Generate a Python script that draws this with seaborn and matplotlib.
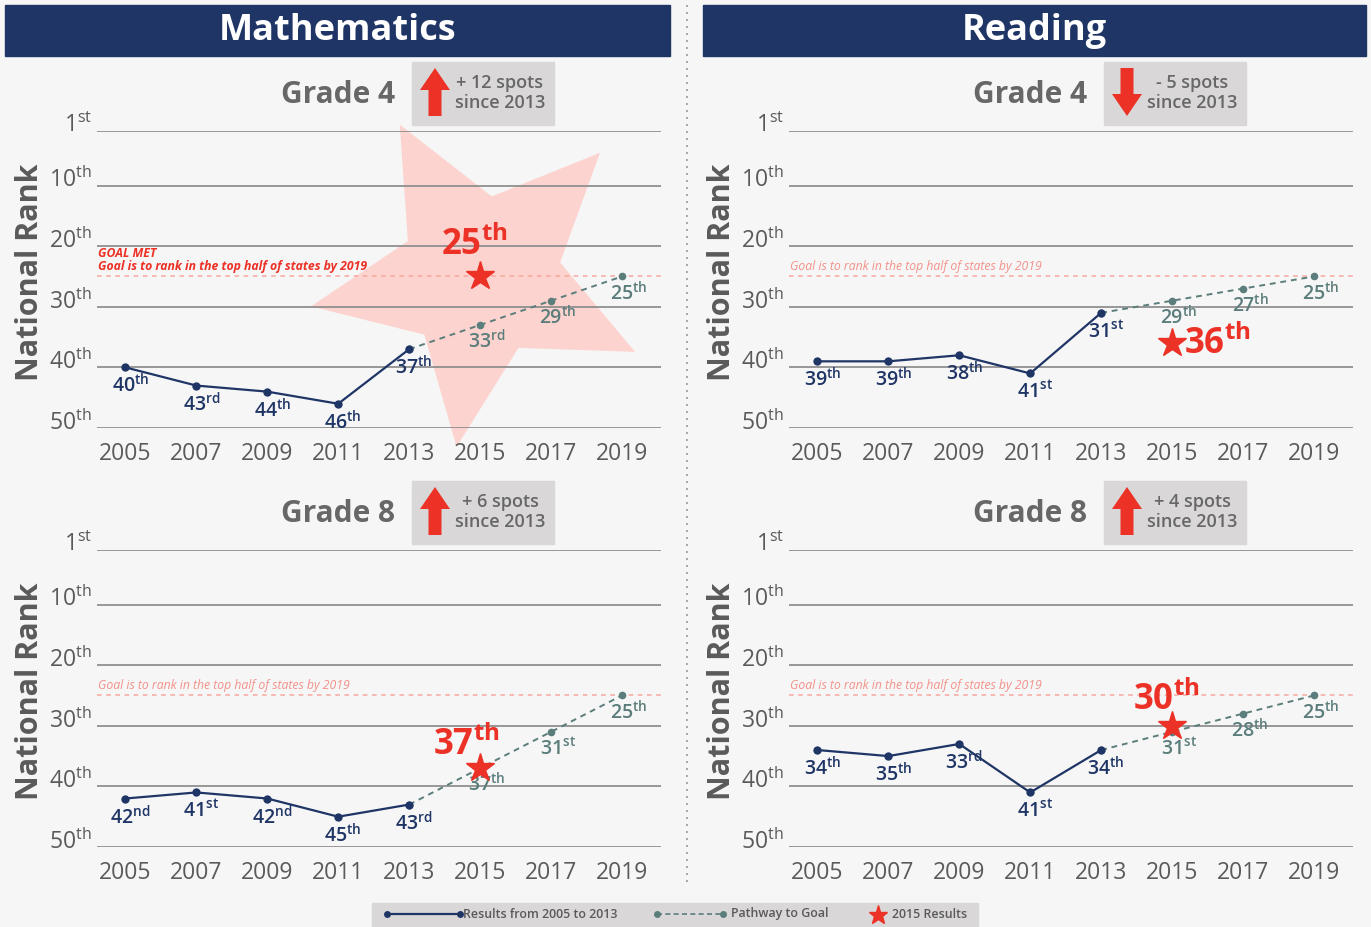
import matplotlib
matplotlib.use('Agg')
import numpy as np
import matplotlib.pyplot as plt
import seaborn as sns
from matplotlib.patches import Rectangle, FancyArrow
from matplotlib.transforms import offset_copy, blended_transform_factory

sns.set_theme(style="white")
plt.rcParams['font.family'] = ['Open Sans', 'DejaVu Sans']
plt.rcParams['mathtext.fontset'] = 'custom'
plt.rcParams['mathtext.rm'] = 'Open Sans:semibold'
plt.rcParams['mathtext.sf'] = 'Open Sans'
plt.rcParams['mathtext.bf'] = 'Open Sans:bold'

# ==========================================
# Data (national rank, lower is better)
# ==========================================
years = [2005, 2007, 2009, 2011, 2013]
goal_years = [2013, 2015, 2017, 2019]
result_year = 2015
goal_rank = 25
rank_ticks = [1, 10, 20, 30, 40, 50]

subjects = ["Mathematics", "Reading"]
grades = ["Grade 4", "Grade 8"]

math_g4 = [40, 43, 44, 46, 37]
math_g4_path = [37, 33, 29, 25]
math_g4_2015 = 25
math_g8 = [42, 41, 42, 45, 43]
math_g8_path = [43, 37, 31, 25]
math_g8_2015 = 37
read_g4 = [39, 39, 38, 41, 31]
read_g4_path = [31, 29, 27, 25]
read_g4_2015 = 36
read_g8 = [34, 35, 33, 41, 34]
read_g8_path = [34, 31, 28, 25]
read_g8_2015 = 30

panels = {
    ("Mathematics", "Grade 4"): (math_g4, math_g4_path, math_g4_2015),
    ("Mathematics", "Grade 8"): (math_g8, math_g8_path, math_g8_2015),
    ("Reading", "Grade 4"): (read_g4, read_g4_path, read_g4_2015),
    ("Reading", "Grade 8"): (read_g8, read_g8_path, read_g8_2015),
}
# where the big red 2015 label sits relative to its star (pixels)
star_label_offset = {
    ("Mathematics", "Grade 4"): (-6, 32, 'center'),
    ("Mathematics", "Grade 8"): (-14, 24, 'center'),
    ("Reading", "Grade 4"): (12, 0, 'left'),
    ("Reading", "Grade 8"): (-6, 26, 'center'),
}

NAVY = '#1f3566'
TEAL = '#5b7d7b'
RED = '#ec3126'
GOAL = '#f6a7a0'
GOAL_TXT = '#f3918a'
GRID = '#8f8f8f'
TEXT = '#5a5a5a'
BG = '#f6f6f6'
BOX = '#d9d7d8'

W, H = 1371, 927


def ordinal(n, font='rm'):
    if 10 <= n % 100 <= 20:
        suf = 'th'
    else:
        suf = {1: 'st', 2: 'nd', 3: 'rd'}.get(n % 10, 'th')
    return rf'$\math{font}{{{n}}}^{{\math{font}{{{suf}}}}}$'


def fig_rect(x0, y0, x1, y1):
    return [x0 / W, 1 - y1 / H, (x1 - x0) / W, (y1 - y0) / H]


def star_verts(rot=28, inner=0.47):
    ang = np.deg2rad(90 + rot + np.arange(10) * 36)
    rad = np.where(np.arange(10) % 2 == 0, 1.0, inner)
    return np.column_stack([rad * np.cos(ang), rad * np.sin(ang)])


fig = plt.figure(figsize=(W / 100, H / 100), dpi=100, facecolor=BG)

# overlay in pixel coordinates for headers, boxes, and legend
deco = fig.add_axes([0, 0, 1, 1])
deco.set_xlim(0, W)
deco.set_ylim(H, 0)
deco.axis('off')

deco.plot([687, 687], [5, 885], color='#9a9a9a', ls=(0, (1.2, 3)), lw=1.2)

header_x = [(5, 670), (703, 1366)]

for col, subject in enumerate(subjects):
    dx = col * 692
    hx0, hx1 = header_x[col]
    deco.add_patch(Rectangle((hx0, 5), hx1 - hx0, 51, color=NAVY))
    deco.text((hx0 + hx1) / 2, 31, subject, color='white', fontsize=26,
              fontweight='bold', ha='center', va='center')

    for row, grade in enumerate(grades):
        dy = row * 419
        res, path, r2015 = panels[(subject, grade)]

        # ---- title + change box ----
        change = res[-1] - r2015
        deco.text(338 + dx, 95 + dy, grade, fontsize=21.5, fontweight='bold',
                  color='#676767', ha='center', va='center')
        deco.add_patch(Rectangle((412 + dx, 62 + dy), 142, 63, color=BOX))
        if change >= 0:
            deco.add_patch(FancyArrow(435 + dx, 116 + dy, 0, -48, width=13, head_width=30,
                                      head_length=22, length_includes_head=True,
                                      color=RED, lw=0))
        else:
            deco.add_patch(FancyArrow(435 + dx, 68 + dy, 0, 48, width=13, head_width=30,
                                      head_length=22, length_includes_head=True,
                                      color=RED, lw=0))
        sign = '+' if change >= 0 else '-'
        deco.text(500 + dx, 93 + dy, f"{sign} {abs(change)} spots\nsince 2013",
                  fontsize=13, color='#676767', ha='center', va='center',
                  linespacing=1.2, fontweight='semibold')
        deco.text(30 + dx, 272 + dy, "National Rank", rotation=90, fontsize=22,
                  fontweight='bold', color=TEXT, ha='center', va='center')

        # ---- chart ----
        ax = fig.add_axes(fig_rect(97 + dx, 131 + dy, 661 + dx, 428 + dy))
        ax.set_facecolor('none')
        ax.set_axisbelow(True)

        goal_met = r2015 <= goal_rank
        if goal_met:
            v = star_verts()
            ms = 2 * 172 * 0.72 * np.abs(v).max()
            ax.plot([result_year], [r2015], marker=v, ms=ms, color='#fcd3cf',
                    mec='none', ls='none', zorder=0.2, clip_on=False)

        ax.axhline(goal_rank, color=GOAL, ls=(0, (3, 3)), lw=1.1, zorder=1)

        sns.lineplot(x=goal_years, y=path, ax=ax, color=TEAL, marker='o',
                     markersize=5.5, markeredgewidth=0, linewidth=1.4,
                     linestyle=(0, (3, 2.5)), zorder=3)
        sns.lineplot(x=years, y=res, ax=ax, color=NAVY, marker='o',
                     markersize=6, markeredgewidth=0, linewidth=1.6, zorder=4)
        ax.plot([result_year], [r2015], marker='*', ms=21, color=RED,
                ls='none', zorder=6, clip_on=False)

        for yr, val in zip(years, res):
            ax.annotate(ordinal(val), (yr, val), xytext=(5, -18),
                        textcoords='offset pixels', ha='center', va='center',
                        fontsize=14, color=NAVY)
        for yr, val in zip(goal_years[1:], path[1:]):
            ax.annotate(ordinal(val), (yr, val), xytext=(7, -16),
                        textcoords='offset pixels', ha='center', va='center',
                        fontsize=14, color=TEAL)

        ox, oy, ha = star_label_offset[(subject, grade)]
        ax.annotate(ordinal(r2015, 'bf'), (result_year, r2015), xytext=(ox, oy),
                    textcoords='offset pixels', ha=ha, va='center',
                    fontsize=25, color=RED, zorder=7, annotation_clip=False)

        blend = blended_transform_factory(ax.transAxes, ax.transData)
        goal_tr = offset_copy(blend, fig=fig, x=1, y=3, units='dots')
        if goal_met:
            ax.text(0, goal_rank, "GOAL MET\nGoal is to rank in the top half of states by 2019",
                    transform=goal_tr, fontsize=8.8, fontstyle='italic', fontweight='bold',
                    color=RED, ha='left', va='bottom', linespacing=1.0)
        else:
            ax.text(0, goal_rank, "Goal is to rank in the top half of states by 2019",
                    transform=goal_tr, fontsize=8.8, fontstyle='italic',
                    color=GOAL_TXT, ha='left', va='bottom')

        ax.set_xlim(2004.2, 2020.1)
        ax.set_ylim(50, 1)
        all_years = sorted(set(years + goal_years))
        ax.set_xticks(all_years)
        ax.set_xticklabels([str(y) for y in all_years], fontsize=16.5, color=TEXT)
        ax.tick_params(axis='x', length=0, pad=10)
        ax.set_yticks(rank_ticks)
        ax.set_yticklabels([])
        ax.tick_params(axis='y', length=0)
        ax.grid(axis='y', color=GRID, lw=1.3)
        ax.grid(axis='x', visible=False)
        ax.set_xlabel('')
        ax.set_ylabel('')
        for s in ax.spines.values():
            s.set_visible(False)

        lab_tr = offset_copy(blend, fig=fig, x=-5, y=5, units='dots')
        for r in rank_ticks:
            ax.text(0, r, ordinal(r, 'sf'), transform=lab_tr, ha='right',
                    va='center', fontsize=16.5, color=TEXT)

# ---- legend ----
deco.add_patch(Rectangle((372, 903), 606, 24, color=BOX))
deco.plot([387, 460], [914, 914], color=NAVY, lw=1.6, marker='o', ms=5, mew=0)
deco.text(463, 914, "Results from 2005 to 2013", fontsize=8.9, fontweight='semibold',
          color=TEXT, ha='left', va='center')
deco.plot([657, 723], [914, 914], color=TEAL, lw=1.2, ls=(0, (3, 2)), marker='o', ms=5, mew=0)
deco.text(731, 914, "Pathway to Goal", fontsize=8.9, fontweight='semibold',
          color=TEXT, ha='left', va='center')
deco.plot([878], [915], marker='*', ms=14, color=RED, ls='none')
deco.text(892, 915, "2015 Results", fontsize=8.9, fontweight='semibold',
          color=TEXT, ha='left', va='center')

fig.savefig('out.png', dpi=100, facecolor=BG)
